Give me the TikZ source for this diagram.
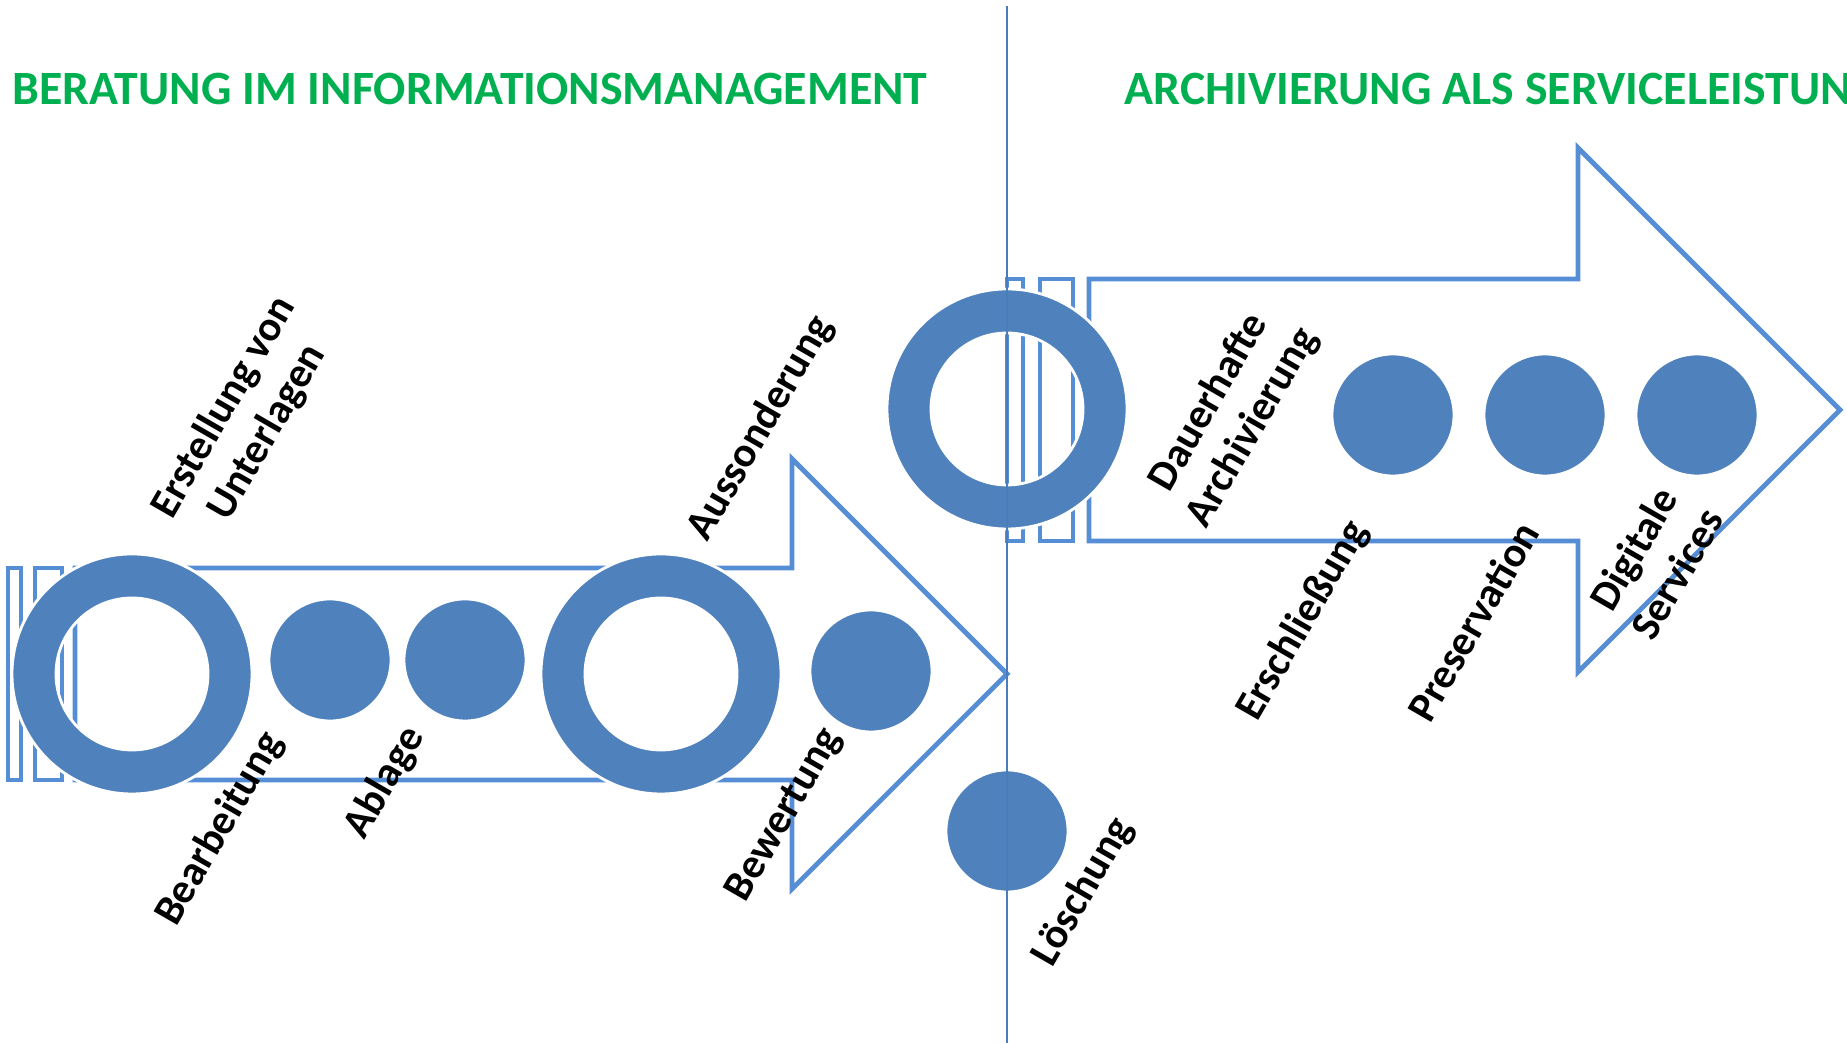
\documentclass[tikz,border=0pt]{standalone}
\usepackage{fontspec}
\setmainfont{Carlito}
\usepackage{tikz}
\usepackage{xcolor}
\definecolor{arrowblue}{RGB}{85,142,213}
\definecolor{dotblue}{RGB}{79,129,189}
\definecolor{linieblue}{RGB}{74,126,187}
\definecolor{titlegreen}{RGB}{0,176,80}
\tikzset{
  arrowline/.style={draw=arrowblue, line width=1.4pt, fill=white},
  dot/.style={fill=dotblue, draw=white, line width=0.8pt},
  ring/.style={fill=dotblue, draw=white, line width=0.8pt, even odd rule},
  divider/.style={draw=linieblue, line width=0.6pt},
  lbl/.style={rotate=60, align=center, font=\bfseries\fontsize{12}{14.3}\selectfont},
  heading/.style={anchor=base west, inner sep=0pt, text=titlegreen, font=\bfseries\fontsize{13.6}{16}\selectfont}
}
\begin{document}
\begin{tikzpicture}
\useasboundingbox (0,0) rectangle (18.47,10.43);
\node [heading] (beratung) at (0.12,9.38) {BERATUNG IM INFORMATIONSMANAGEMENT};
\node [heading] (archivierung) at (11.24,9.38) {ARCHIVIERUNG ALS SERVICELEISTUNG};
\draw [arrowline] (0.08,2.63) rectangle (0.21,4.75);
\draw [arrowline] (0.35,2.63) rectangle (0.62,4.75);
\draw [arrowline] (0.75,4.75) -- (7.92,4.75) -- (7.92,5.84) -- (10.07,3.69) -- (7.92,1.54) -- (7.92,2.63) -- (0.75,2.63) -- cycle;
\draw [arrowline] (10.07,5.02) rectangle (10.23,7.64);
\draw [arrowline] (10.40,5.02) rectangle (10.73,7.64);
\draw [arrowline] (10.89,7.64) -- (15.78,7.64) -- (15.78,8.95) -- (18.40,6.33) -- (15.78,3.71) -- (15.78,5.02) -- (10.89,5.02) -- cycle;
\path [ring] (1.32,3.69) circle (1.2) (1.32,3.69) circle (0.76);
\draw [dot] (3.30,3.83) circle (0.61);
\draw [dot] (4.65,3.83) circle (0.61);
\path [ring] (6.61,3.69) circle (1.2) (6.61,3.69) circle (0.76);
\draw [dot] (8.71,3.72) circle (0.61);
\draw [dot] (10.07,2.12) circle (0.61);
\path [ring] (10.07,6.34) circle (1.2) (10.07,6.34) circle (0.76);
\draw [dot] (13.93,6.28) circle (0.61);
\draw [dot] (15.45,6.28) circle (0.61);
\draw [dot] (16.97,6.28) circle (0.61);
\draw [divider] (10.07,10.37) -- (10.07,0);
\node [lbl] (erstellung) at (2.46,6.23) {Erstellung von\\Unterlagen};
\node [lbl] (bearbeitung) at (2.20,2.14) {Bearbeitung};
\node [lbl] (ablage) at (3.85,2.60) {Ablage};
\node [lbl] (aussonderung) at (7.61,6.15) {Aussonderung};
\node [lbl] (bewertung) at (7.85,2.28) {Bewertung};
\node [lbl] (loeschung) at (10.83,1.51) {Löschung};
\node [lbl] (dauerhaft) at (12.31,6.28) {Dauerhafte\\Archivierung};
\node [lbl] (erschliessung) at (13.03,4.22) {Erschließung};
\node [lbl] (preservation) at (14.73,4.22) {Preservation};
\node [lbl] (digital) at (16.55,4.82) {Digitale\\Services};
\end{tikzpicture}
\end{document}
